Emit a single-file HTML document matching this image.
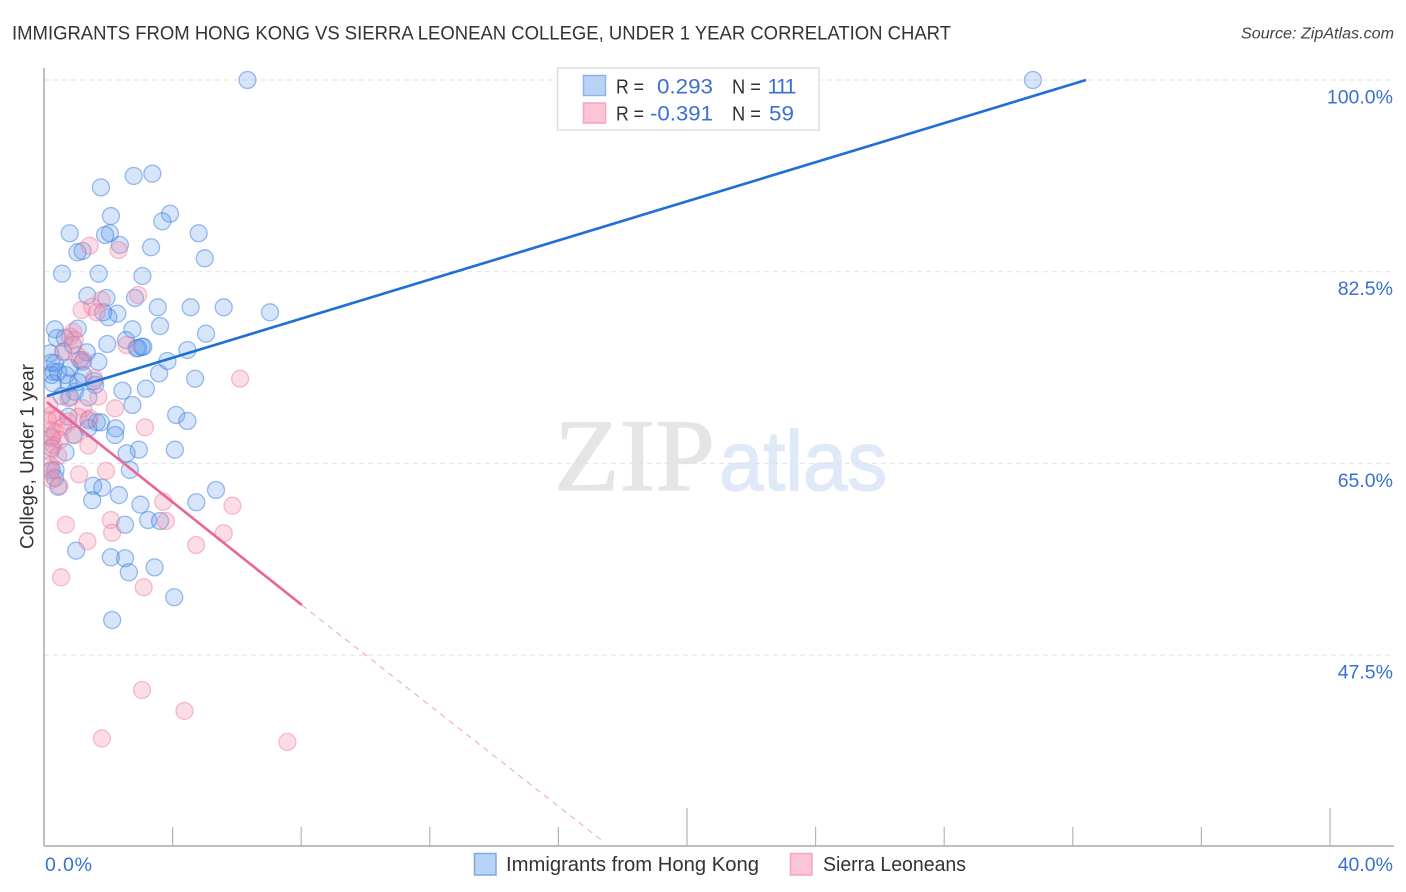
<!DOCTYPE html>
<html lang="en">
<head>
<meta charset="utf-8">
<title>Immigrants from Hong Kong vs Sierra Leonean College, Under 1 Year Correlation Chart</title>
<style>
html,body{margin:0;padding:0;background:#fff;width:1406px;height:892px;overflow:hidden}
svg{display:block;font-family:"Liberation Sans",sans-serif}
</style>
</head>
<body>
<svg id="chart" width="1406" height="892" viewBox="0 0 1406 892" xmlns="http://www.w3.org/2000/svg">
  <defs>
    <clipPath id="plot-clip"><rect x="44.5" y="60" width="1350" height="786"/></clipPath>
  </defs>
  <text x="12" y="39.5" font-size="19.5" fill="#333" textLength="939" lengthAdjust="spacingAndGlyphs">IMMIGRANTS FROM HONG KONG VS SIERRA LEONEAN COLLEGE, UNDER 1 YEAR CORRELATION CHART</text>
  <text x="1394" y="38.5" font-size="15.5" font-style="italic" fill="#444" text-anchor="end" textLength="153" lengthAdjust="spacingAndGlyphs">Source: ZipAtlas.com</text>

  <g>
    <text x="554" y="490" font-family="'Liberation Serif',serif" font-size="103" fill="#e5e5e5" stroke="#e5e5e5" stroke-width="1.2" textLength="161" lengthAdjust="spacingAndGlyphs">ZIP</text>
    <text x="719" y="490" font-size="84" fill="#dfe9f8" stroke="#dfe9f8" stroke-width="1.4" textLength="168" lengthAdjust="spacingAndGlyphs">atlas</text>
  </g>

  <g id="grid"></g>
  <g id="axes"></g>
  <g clip-path="url(#plot-clip)">
    <g id="blue-points"></g>
    <g id="pink-points"></g>
  </g>
  <g id="trends"></g>
  <g id="labels"></g>

  <text transform="translate(33.5,456.5) rotate(-90)" font-size="19" fill="#333" text-anchor="middle" textLength="185" lengthAdjust="spacingAndGlyphs">College, Under 1 year</text>

  <g>
    <rect x="557.5" y="68" width="261.5" height="62" fill="#fff" stroke="#ddd" stroke-width="1.5"/>
    <rect x="583.5" y="75.5" width="22" height="20" fill="#b9d3f7" stroke="#8db4ea" stroke-width="1.5"/>
    <rect x="583.5" y="103" width="22" height="20" fill="#fcc5d6" stroke="#f2a6bf" stroke-width="1.5"/>
    <g font-size="20" fill="#333">
      <text x="616" y="93.5" textLength="28" lengthAdjust="spacingAndGlyphs">R =</text>
      <text x="732" y="93.5" textLength="29" lengthAdjust="spacingAndGlyphs">N =</text>
      <text x="616" y="120.5" textLength="28" lengthAdjust="spacingAndGlyphs">R =</text>
      <text x="732" y="120.5" textLength="29" lengthAdjust="spacingAndGlyphs">N =</text>
    </g>
    <g font-size="21.5" fill="#3a70d2">
      <text x="657" y="93.5" textLength="56" lengthAdjust="spacingAndGlyphs">0.293</text>
      <text x="767.5 776 784.5" y="93.5">111</text>
      <text x="650" y="120.5" textLength="63" lengthAdjust="spacingAndGlyphs">-0.391</text>
      <text x="769" y="120.5" textLength="25" lengthAdjust="spacingAndGlyphs">59</text>
    </g>
  </g>

  <g>
    <rect x="474.5" y="853.5" width="21.5" height="21.5" fill="#b9d3f7" stroke="#7fa9e2" stroke-width="1.5"/>
    <text x="506" y="871" font-size="20" fill="#333" textLength="253" lengthAdjust="spacingAndGlyphs">Immigrants from Hong Kong</text>
    <rect x="790.5" y="853.5" width="21.5" height="21.5" fill="#fcc5d6" stroke="#f2a6bf" stroke-width="1.5"/>
    <text x="823" y="871" font-size="20" fill="#333" textLength="143" lengthAdjust="spacingAndGlyphs">Sierra Leoneans</text>
  </g>
</svg>
<script>
const xTicks = [4, 8, 12, 16, 20, 24, 28, 32, 36, 40];
const xMajorTicks = [20, 40];
const xEndLabels = ["0.0%", "40.0%"];
const yTicks = [100, 82.5, 65, 47.5];
const yTickLabels = ["100.0%", "82.5%", "65.0%", "47.5%"];

const blueX = [6.33,3.37,2.79,1.77,3.92,3.68,2.08,0.80,4.81,2.05,1.90,2.36,3.33,1.20,1.04,5.00,0.56,1.70,3.06,1.35,1.94,2.83,4.56,3.54,5.59,7.03,2.28,2.00,1.84,3.61,2.75,1.05,0.34,5.04,0.40,0.65,1.97,2.55,2.88,3.09,2.93,3.04,1.33,0.60,0.19,4.46,1.69,3.84,1.20,1.12,0.34,0.81,0.29,0.24,3.58,4.70,1.22,1.56,1.59,0.76,0.28,3.17,2.44,0.96,1.38,0.55,2.75,4.11,4.46,0.76,1.38,1.64,1.77,2.23,2.21,1.38,0.24,0.91,0.24,0.67,2.57,2.95,4.07,2.67,0.24,0.44,1.53,1.81,5.35,2.33,1.50,4.74,3.00,3.24,3.61,2.52,1.00,2.08,2.52,3.44,2.64,4.05,2.12,30.76,0.23,0.44,0.68,0.90,0.81,1.06,0.36,0.34];
const blueY = [100,91.45,91.24,90.20,87.79,87.10,87.58,86.01,86.01,86.01,85.85,84.94,84.73,84.39,84.27,83.72,82.32,82.32,82.11,80.31,80.10,80.10,79.25,79.25,79.25,78.79,78.67,78.34,78.79,77.54,77.24,77.30,77.24,76.84,76.45,76.45,75.90,76.26,75.51,75.65,75.53,75.65,75.14,75.20,75.05,75.35,74.28,74.35,74.28,74.44,74.14,73.71,73.37,73.07,73.22,72.73,73.07,72.52,72.16,72.31,72.31,71.82,71.64,71.54,71.03,71.15,70.33,69.42,68.87,69.26,68.96,68.75,68.75,68.20,67.59,68.23,67.44,67.59,66.41,66.01,65.92,66.25,66.25,64.40,64.40,62.87,62.96,62.78,62.57,62.11,61.63,61.45,61.23,59.83,59.74,59.40,57.03,56.43,56.34,55.51,55.06,52.78,50.70,100,74.20,73.34,73.07,75.81,71.06,72.43,64.40,63.67];

const pinkX = [1.42,2.32,2.93,1.79,1.50,1.17,1.64,0.91,0.81,0.96,2.57,0.60,1.02,1.22,1.56,6.10,1.69,0.76,2.21,1.22,0.24,0.40,1.43,0.76,1.07,0.60,3.14,0.96,0.24,0.24,0.29,0.19,1.38,0.19,0.19,1.09,1.93,0.48,3.71,5.86,2.08,3.79,0.68,2.12,5.59,1.35,4.73,0.53,3.10,3.05,4.37,1.80,7.57,0.34,0.50,0.12,0.16,0.44,0.25];
const pinkY = [84.87,84.48,80.37,79.92,79.30,79.00,78.79,77.02,76.57,76.26,75.81,75.20,74.90,74.44,72.77,72.73,71.09,70.94,70.03,70.03,69.42,69.12,69.12,68.81,69.26,68.35,68.29,67.59,68.05,67.29,66.68,66.07,66.62,64.85,64.24,64.00,64.31,62.96,61.50,61.14,59.83,59.74,59.40,58.67,58.62,57.89,57.55,54.60,53.69,44.31,42.40,39.89,39.57,67.85,67.14,68.96,70.30,65.68,63.50];

const blueTrendX = [0.09, 32.41];
const blueTrendY = [71.15, 100];
const pinkSolidX = [0.09, 8.02];
const pinkSolidY = [70.60, 52.07];
const pinkDashX = [8.02, 17.45];
const pinkDashY = [52.07, 30.35];

const X0 = 44, X1 = 1330, Y100 = 80, YPER = 10.954;
function xScale(v) { return X0 + (v / 40) * (X1 - X0); }
function yScale(v) { return Y100 + (100 - v) * YPER; }

const NS = "http://www.w3.org/2000/svg";
function make(tag, parentId, attrs, text) {
  const el = document.createElementNS(NS, tag);
  for (const k in attrs) el.setAttribute(k, attrs[k]);
  if (text !== undefined) el.textContent = text;
  document.getElementById(parentId).appendChild(el);
  return el;
}

yTicks.forEach(function (v, i) {
  const line = make("line", "grid", { x1: X0, x2: 1394, y1: yScale(v), y2: yScale(v), stroke: "#e2e2e2", "stroke-width": 1, "stroke-dasharray": "5 4" });
  
  
  const label = make("text", "labels", { x: 1393, y: yScale(v) + 23.5, "font-size": 19.5, fill: "#3a70d2", "text-anchor": "end" }, yTickLabels[i]);
  
  
});

const yAxis = make("line", "axes", { x1: X0, x2: X0, y1: 68, y2: 846, stroke: "#aaa", "stroke-width": 1.5 });


const xAxis = make("line", "axes", { x1: X0, x2: 1394, y1: 846, y2: 846, stroke: "#aaa", "stroke-width": 1.5 });



xTicks.forEach(function (v) {
  const tall = xMajorTicks.indexOf(v) >= 0;
  const tick = make("line", "axes", { x1: xScale(v), x2: xScale(v), y1: tall ? 808 : 827, y2: 846, stroke: "#b5b5b5", "stroke-width": 1.2 });
  
  
});

const xLabelLeft = make("text", "labels", { x: 45, y: 871, "font-size": 19.5, fill: "#3a70d2", textLength: 47 }, xEndLabels[0]);


const xLabelRight = make("text", "labels", { x: 1393, y: 871, "font-size": 19.5, fill: "#3a70d2", "text-anchor": "end" }, xEndLabels[1]);



blueX.forEach(function (v, i) {
  const c = make("circle", "blue-points", { cx: xScale(v), cy: yScale(blueY[i]), r: 8.5, fill: "rgba(95,155,235,0.26)", stroke: "rgba(60,125,220,0.5)", "stroke-width": 1.3 });
  
  
});
pinkX.forEach(function (v, i) {
  const c = make("circle", "pink-points", { cx: xScale(v), cy: yScale(pinkY[i]), r: 8.5, fill: "rgba(245,140,170,0.3)", stroke: "rgba(235,120,155,0.45)", "stroke-width": 1.3 });
  
  
});

const blueLine = make("line", "trends", { x1: xScale(blueTrendX[0]), y1: yScale(blueTrendY[0]), x2: xScale(blueTrendX[1]), y2: yScale(blueTrendY[1]), stroke: "#1f6fd8", "stroke-width": 2.6 });


const pinkLine = make("line", "trends", { x1: xScale(pinkSolidX[0]), y1: yScale(pinkSolidY[0]), x2: xScale(pinkSolidX[1]), y2: yScale(pinkSolidY[1]), stroke: "#ea6497", "stroke-width": 2.6 });


const pinkDash = make("line", "trends", { x1: xScale(pinkDashX[0]), y1: yScale(pinkDashY[0]), x2: xScale(pinkDashX[1]), y2: yScale(pinkDashY[1]), stroke: "#efa3bf", "stroke-width": 1, "stroke-dasharray": "6 5" });


</script>
</body>
</html>
